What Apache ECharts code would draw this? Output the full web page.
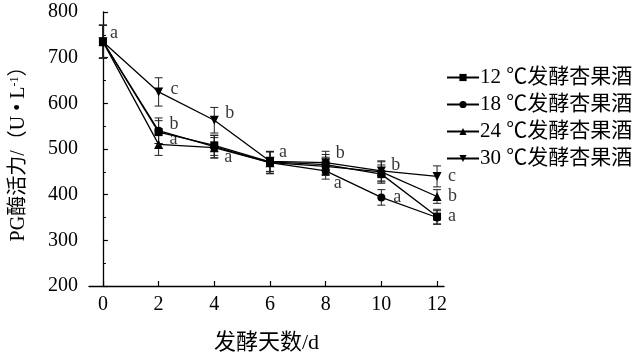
<!DOCTYPE html>
<html>
<head>
<meta charset="utf-8">
<script src="https://cdn.jsdelivr.net/npm/echarts@6/dist/echarts.min.js"></script>
<style>html,body{margin:0;padding:0;background:#fff;}#c{width:638px;height:355px;}</style>
</head>
<body>
<div id="c"></div>
<script>
const days = [0, 2, 4, 6, 8, 10, 12];
const seriesNames = ['12 ℃发酵杏果酒', '18 ℃发酵杏果酒', '24 ℃发酵杏果酒', '30 ℃发酵杏果酒'];
const v12 = [735, 537, 508, 472, 466, 445, 352];
const e12 = [36, 25, 22, 22, 22, 20, 16];
const v18 = [735, 540, 505, 470, 452, 394, 350];
const e18 = [36, 28, 25, 24, 18, 17, 15];
const v24 = [735, 510, 503, 470, 462, 450, 396];
const e24 = [36, 24, 22, 24, 20, 22, 15];
const v30 = [735, 625, 563, 473, 470, 452, 440];
const e30 = [36, 31, 28, 22, 25, 22, 23];
const l12 = ['a', '', '', '', '', '', 'a'];
const l18 = ['', 'b', '', '', 'a', 'a', ''];
const l24 = ['', 'a', 'a', '', '', '', 'b'];
const l30 = ['', 'c', 'b', 'a', 'b', 'b', 'c'];
const yTickMin = 200, yTickMax = 800, yTickStep = 100;

const values = [v12, v18, v24, v30];
const errors = [e12, e18, e24, e30];
const letters = [l12, l18, l24, l30];
const symbols = ['rect', 'circle', 'triangle', 'triangle'];
const rotations = [0, 0, 0, 180];
const sizes = [8, 8, 9, 9];
// label offsets (style): [dx, dy] in px, keyed by series index + day
const letterOffsets = {
  '0-0': [7, -8], '1-2': [11, -6], '2-2': [11, -5], '3-2': [12, -3],
  '2-4': [10, 10], '3-4': [11, -7], '3-6': [9, -9], '1-8': [8, 12],
  '3-8': [10, -9], '1-10': [12, 0], '3-10': [10, -6], '0-12': [11, 0],
  '2-12': [11, 0], '3-12': [11, 0]
};

const font = '"Liberation Serif", "Times New Roman", "Noto Sans CJK SC", serif';

const series = [];
values.forEach((vals, si) => {
  series.push({
    type: 'custom',
    silent: true,
    z: 1,
    data: days.map((d, i) => [d, vals[i] - errors[si][i], vals[i] + errors[si][i]]),
    renderItem: function (params, api) {
      const x = api.value(0);
      const lo = api.coord([x, api.value(1)]);
      const hi = api.coord([x, api.value(2)]);
      const w = 4;
      const st = { stroke: '#222', lineWidth: 1 };
      return {
        type: 'group',
        children: [
          { type: 'line', shape: { x1: lo[0], y1: lo[1], x2: hi[0], y2: hi[1] }, style: st },
          { type: 'line', shape: { x1: lo[0] - w, y1: lo[1], x2: lo[0] + w, y2: lo[1] }, style: st },
          { type: 'line', shape: { x1: hi[0] - w, y1: hi[1], x2: hi[0] + w, y2: hi[1] }, style: st }
        ]
      };
    }
  });
});
values.forEach((vals, si) => {
  series.push({
    name: seriesNames[si],
    type: 'line',
    z: 3,
    data: days.map((d, i) => [d, vals[i]]),
    symbol: symbols[si],
    symbolSize: sizes[si],
    symbolRotate: rotations[si],
    showAllSymbol: true,
    lineStyle: { color: '#000', width: 1.3 },
    itemStyle: { color: '#000', borderWidth: 0 },
    emphasis: { disabled: true },
    animation: false
  });
});
const letterData = [];
letters.forEach((arr, si) => {
  arr.forEach((t, i) => {
    if (!t) return;
    const off = letterOffsets[si + '-' + days[i]] || [10, -5];
    letterData.push({
      value: [days[i], values[si][i]],
      label: { show: true, formatter: t, position: 'inside', offset: off, align: 'left', verticalAlign: 'middle' }
    });
  });
});
series.push({
  type: 'scatter',
  z: 4,
  symbolSize: 1,
  itemStyle: { color: 'rgba(0,0,0,0)' },
  label: { color: '#000', fontFamily: font, fontSize: 18 },
  data: letterData,
  silent: true,
  animation: false
});

const chart = echarts.init(document.getElementById('c'), null, { renderer: 'canvas' });
chart.setOption({
  animation: false,
  backgroundColor: '#fff',
  grid: { left: 89, right: 194, top: 12, bottom: 69, containLabel: false, outerBoundsMode: 'none' },
  legend: {
    orient: 'vertical',
    left: 441,
    top: 62,
    itemWidth: 32,
    itemHeight: 9,
    itemGap: 6,
    data: seriesNames,
    textStyle: { fontFamily: font, fontSize: 21, color: '#000', padding: [0, 0, 0, -4] },
    selectedMode: false
  },
  xAxis: {
    type: 'value',
    min: -0.5,
    max: 12.25,
    name: '发酵天数/d',
    nameLocation: 'middle',
    nameGap: 46,
    nameTextStyle: { fontFamily: font, fontSize: 22, color: '#000' },
    axisLine: { show: true, lineStyle: { color: '#000', width: 1.3 } },
    axisTick: { show: true, inside: true, length: 5, customValues: days, lineStyle: { color: '#000', width: 1.2 } },
    axisLabel: { customValues: days, fontFamily: font, fontSize: 20, color: '#000', margin: 9 },
    splitLine: { show: false }
  },
  yAxis: {
    type: 'value',
    min: yTickMin,
    max: yTickMax,
    interval: yTickStep,
    name: '{a|PG酶活力/（U • L}{s|-1}{a|）}',
    nameLocation: 'middle',
    nameGap: 60,
    nameRotate: 90,
    nameTextStyle: {
      rich: {
        a: { fontFamily: font, fontSize: 20, color: '#000' },
        s: { fontFamily: font, fontSize: 12, color: '#000', verticalAlign: 'top', lineHeight: 20, padding: [0, 0, 8, 0] }
      }
    },
    axisLine: { show: true, lineStyle: { color: '#000', width: 1.3 } },
    axisTick: { show: true, inside: true, length: 5, lineStyle: { color: '#000', width: 1.2 } },
    minorTick: { show: true, splitNumber: 2, length: 3, lineStyle: { color: '#000', width: 1 } },
    axisLabel: { fontFamily: font, fontSize: 20, color: '#000', margin: 11 },
    splitLine: { show: false }
  },
  series: series
});
</script>
</body>
</html>
